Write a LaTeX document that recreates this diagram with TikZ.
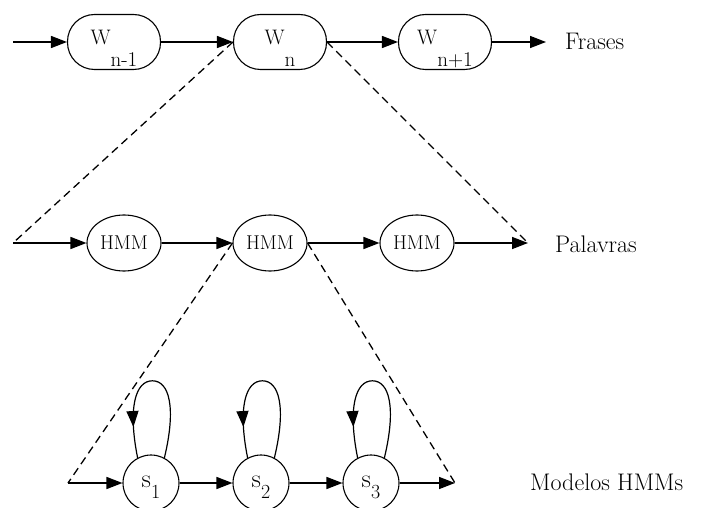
\documentclass[tikz,border=0pt]{standalone}
\usetikzlibrary{arrows.meta,shapes.geometric,decorations.markings}
\begin{document}
\begin{tikzpicture}[x=1pt,y=-1pt,
  tip/.style={-{Triangle[length=16pt,width=12pt]}},
  conn/.style={line width=1.5pt,tip},
  dashconn/.style={line width=1.3pt,dash pattern=on 8pt off 5pt},
  wbox/.style={draw,line width=1.1pt,rounded corners=27pt,minimum width=93pt,minimum height=55pt,inner sep=0pt,font=\fontsize{21}{24}\selectfont},
  hmm/.style={draw,line width=1.1pt,ellipse,minimum width=74pt,minimum height=56pt,inner sep=0pt,font=\fontsize{20}{24}\selectfont},
  state/.style={draw,line width=1.1pt,circle,minimum size=56pt,inner sep=0pt,font=\fontsize{26}{30}\selectfont},
  lab/.style={anchor=base west,inner sep=0pt,font=\fontsize{24}{28}\selectfont},
  selfloop/.style={line width=1.2pt,decoration={markings,mark=at position 0.82 with {\arrow{Triangle[length=16pt,width=12pt]}}},postaction={decorate}}
]
\useasboundingbox (0,0) rectangle (712,508);
\newcommand{\wlab}[1]{\raisebox{-3pt}[0pt][0pt]{W}\raisebox{-25pt}[0pt][0pt]{#1}}
\newcommand{\slab}[1]{\raisebox{-4pt}[0pt][0pt]{s}\raisebox{-15pt}[0pt][0pt]{\fontsize{20}{24}\selectfont #1}}

% top row
\coordinate (t0) at (13,42);
\node[wbox] (w1) at (114,42) {\wlab{n-1}};
\node[wbox] (w2) at (280,42) {\wlab{n}};
\node[wbox] (w3) at (445,42) {\wlab{n+1}};
\coordinate (t4) at (546,42);
\node[lab] (frases) at (565,50) {Frases};
\draw[conn] (t0) -- (w1);
\draw[conn] (w1) -- (w2);
\draw[conn] (w2) -- (w3);
\draw[conn] (w3) -- (t4);

% middle row
\coordinate (m0) at (13,243);
\node[hmm] (h1) at (124,243) {HMM};
\node[hmm] (h2) at (270,243) {HMM};
\node[hmm] (h3) at (417,243) {HMM};
\coordinate (m4) at (528,243);
\node[lab] (palavras) at (555,252) {Palavras};
\draw[conn] (m0) -- (h1);
\draw[conn] (h1) -- (h2);
\draw[conn] (h2) -- (h3);
\draw[conn] (h3) -- (m4);

% bottom row
\coordinate (b0) at (68,483);
\node[state] (s1) at (151,483) {\slab{1}};
\node[state] (s2) at (261,483) {\slab{2}};
\node[state] (s3) at (371,483) {\slab{3}};
\coordinate (b4) at (455,483);
\node[lab] (modelos) at (530,490) {Modelos HMMs};
\draw[conn] (s1) -- (s2);
\draw[conn] (b0) -- (s1);
\draw[conn] (s2) -- (s3);
\draw[conn] (s3) -- (b4);

% self loops
\foreach \s in {s1,s2,s3}{
  \draw[selfloop] (\s.62) .. controls +(12,-50) and +(17,0) .. ++(-12,-77)
                         .. controls +(-17,0) and +(-10,-50) .. (\s.118);
}

% dashed expansions
\draw[dashconn] (w2.west) -- (m0);
\draw[dashconn] (w2.east) -- (m4);
\draw[dashconn] (h2.west) -- (b0);
\draw[dashconn] (h2.east) -- (b4);
\end{tikzpicture}
\end{document}
